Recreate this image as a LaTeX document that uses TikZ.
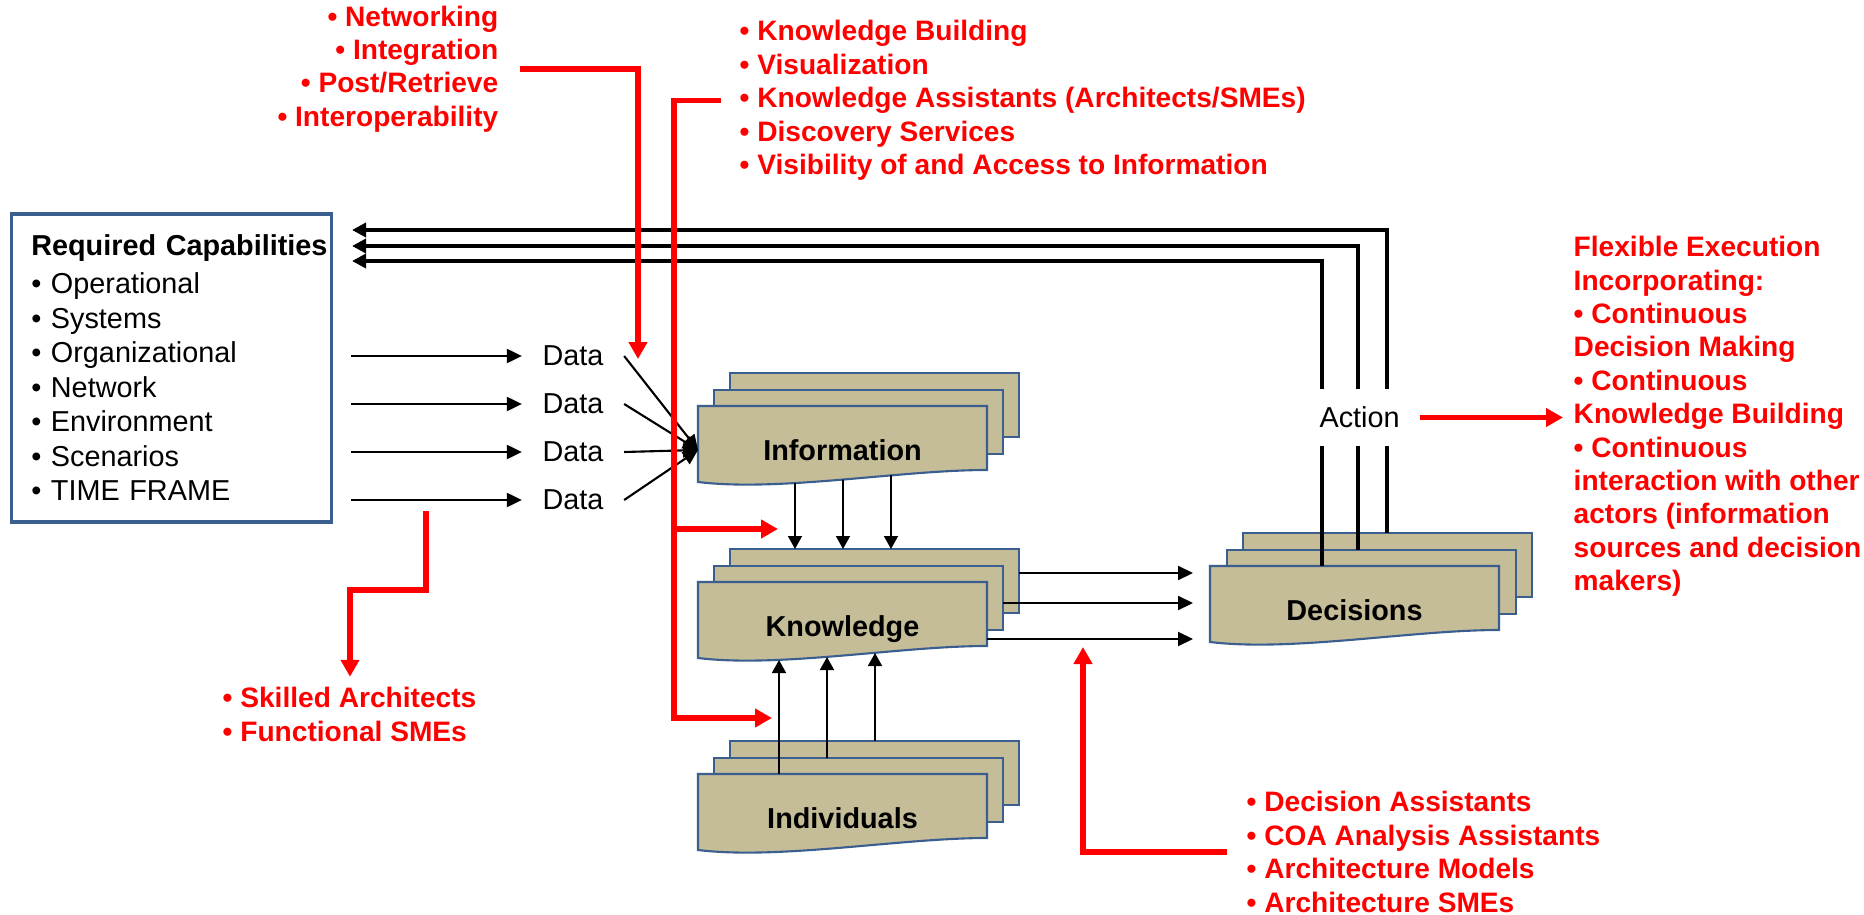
\documentclass[tikz,border=0pt]{standalone}
\usepackage{fontspec}
\setmainfont{Liberation Sans}
\usetikzlibrary{arrows.meta}
\definecolor{doctan}{HTML}{C4BD97}
\definecolor{docblue}{HTML}{3A5F8F}
\definecolor{notered}{HTML}{FF0000}
\begin{document}
\begin{tikzpicture}[font=\fontsize{8.2}{9.6}\selectfont,
  sheet/.style={draw=docblue,fill=doctan,line width=0.6pt,minimum width=2.89cm,minimum height=0.64cm,inner sep=0,outer sep=0},
  sheetline/.style={draw=docblue,fill=doctan,line width=0.6pt},
  sheetlabel/.style={minimum width=2.89cm,minimum height=0.88cm,inner sep=0,outer sep=0,font=\fontsize{8.2}{9.6}\selectfont\bfseries,text height=0.21cm,text depth=0cm},
  capbox/.style={draw=docblue,line width=1pt,minimum width=3.2cm,minimum height=3.08cm,text width=2.8cm,inner xsep=0.2cm,align=left,font=\fontsize{8.2}{9.8}\selectfont},
  datalabel/.style={inner xsep=0.2cm},
  notes/.style={text=notered,font=\fontsize{8}{9.5}\selectfont\bfseries,inner sep=0.1cm,align=left},
  datarrow/.style={line width=0.6pt,-{Triangle[length=0.15cm,width=0.14cm]}},
  thinarrow/.style={line width=0.45pt,-{Triangle[length=0.13cm,width=0.14cm]}},
  fbline/.style={line width=1pt},
  fbarrow/.style={line width=1pt,-{Triangle[length=0.14cm,width=0.14cm]}},
  redarrow/.style={color=notered,line width=1.5pt,-{Triangle[length=0.17cm,width=0.18cm]}}]
\useasboundingbox (0,0) rectangle (18.64,9.14);
% required capabilities
\node[capbox,anchor=north west] (req) at (0.095,7.02) {\mbox{\textbf{Required Capabilities}}\\[0.035cm]
  • Operational\\ • Systems\\ • Organizational\\ • Network\\ • Environment\\ • Scenarios\\ • TIME FRAME};
\node[datalabel] (d1) at (5.73,5.58) {Data};
\node[datalabel] (d2) at (5.73,5.10) {Data};
\node[datalabel] (d3) at (5.73,4.62) {Data};
\node[datalabel] (d4) at (5.73,4.14) {Data};
% information
\node[sheet,anchor=north west] (info-3) at (7.30,5.41) {};
\node[sheet,anchor=north west] (info-2) at (7.14,5.24) {};
\filldraw[sheetline] (6.98,5.08) -- (9.87,5.08) -- (9.87,4.44) .. controls (9.00,4.44) and (7.80,4.22) .. (6.98,4.32) -- cycle;
\node[sheetlabel,anchor=north west] (info) at (6.98,5.08) {Information};
% knowledge
\node[sheet,anchor=north west] (know-3) at (7.30,3.65) {};
\node[sheet,anchor=north west] (know-2) at (7.14,3.48) {};
\filldraw[sheetline] (6.98,3.32) -- (9.87,3.32) -- (9.87,2.68) .. controls (9.00,2.68) and (7.80,2.46) .. (6.98,2.56) -- cycle;
\node[sheetlabel,anchor=north west] (know) at (6.98,3.32) {Knowledge};
% individuals
\node[sheet,anchor=north west] (indiv-3) at (7.30,1.73) {};
\node[sheet,anchor=north west] (indiv-2) at (7.14,1.56) {};
\filldraw[sheetline] (6.98,1.40) -- (9.87,1.40) -- (9.87,0.76) .. controls (9.00,0.76) and (7.80,0.54) .. (6.98,0.64) -- cycle;
\node[sheetlabel,anchor=north west] (indiv) at (6.98,1.40) {Individuals};
% decisions
\node[sheet,anchor=north west] (dec-3) at (12.43,3.81) {};
\node[sheet,anchor=north west] (dec-2) at (12.27,3.64) {};
\filldraw[sheetline] (12.10,3.48) -- (14.99,3.48) -- (14.99,2.84) .. controls (14.12,2.84) and (12.92,2.62) .. (12.10,2.72) -- cycle;
\node[sheetlabel,anchor=north west] (dec) at (12.10,3.48) {Decisions};
\node[inner xsep=0.2cm,inner ysep=0.17cm] (action) at (13.596,4.965) {Action};
% data flow
\draw[datarrow,shorten <=0.18cm] (req.east |- d1) -- (d1);
\draw[datarrow,shorten <=0.18cm] (req.east |- d2) -- (d2);
\draw[datarrow,shorten <=0.18cm] (req.east |- d3) -- (d3);
\draw[datarrow,shorten <=0.18cm] (req.east |- d4) -- (d4);
\draw[datarrow] (d1.east) -- (info.west);
\draw[datarrow] (d2.east) -- (info.west);
\draw[datarrow] (d3.east) -- (info.west);
\draw[datarrow] (d4.east) -- (info.west);
\draw[thinarrow] ([xshift=0.97cm,yshift=-0.77cm]info.north west) -- ([xshift=0.65cm]know-3.north west);
\draw[thinarrow] ([xshift=1.45cm,yshift=-0.735cm]info.north west) -- ([xshift=1.13cm]know-3.north west);
\draw[thinarrow] ([xshift=1.93cm,yshift=-0.69cm]info.north west) -- ([xshift=1.61cm]know-3.north west);
\draw[thinarrow] ([xshift=0.81cm]indiv.north west) -- ([xshift=0.81cm,yshift=-0.78cm]know.north west);
\draw[thinarrow] ([xshift=1.13cm]indiv-2.north west) -- ([xshift=1.29cm,yshift=-0.75cm]know.north west);
\draw[thinarrow] ([xshift=1.45cm]indiv-3.north west) -- ([xshift=1.77cm,yshift=-0.71cm]know.north west);
\draw[datarrow,shorten >=0.17cm] ([yshift=-0.24cm]know-3.north east) -- ([yshift=-0.24cm]know-3.north east -| dec.west);
\draw[datarrow,shorten >=0.17cm] ([yshift=-0.37cm]know-2.north east) -- ([yshift=-0.37cm]know-2.north east -| dec.west);
\draw[datarrow,shorten >=0.17cm] ([yshift=-0.57cm]know.north east) -- ([yshift=-0.57cm]know.north east -| dec.west);
% feedback to capabilities
\coordinate (fb1) at (13.87,6.84);
\coordinate (fb2) at (13.58,6.68);
\coordinate (fb3) at (13.22,6.53);
\draw[fbline] (dec-3.north -| fb1) -- (action.south -| fb1);
\draw[fbline] (dec-2.north -| fb2) -- (action.south -| fb2);
\draw[fbline] (dec.north -| fb3) -- (action.south -| fb3);
\draw[fbarrow,shorten >=0.19cm] (action.north -| fb1) -- (fb1) -- (fb1 -| req.east);
\draw[fbarrow,shorten >=0.19cm] (action.north -| fb2) -- (fb2) -- (fb2 -| req.east);
\draw[fbarrow,shorten >=0.19cm] (action.north -| fb3) -- (fb3) -- (fb3 -| req.east);
% red notes
\node[notes,align=right,anchor=east] (netw) at (5.09,8.45) {• Networking\\• Integration\\• Post/Retrieve\\• Interoperability};
\node[notes,anchor=west] (kbl) at (7.29,8.135) {• Knowledge Building\\• Visualization\\• Knowledge Assistants (Architects/SMEs)\\• Discovery Services\\• Visibility of and Access to Information};
\node[notes,anchor=west] (skill) at (2.12,1.995) {• Skilled Architects\\• Functional SMEs};
\node[notes,anchor=west] (dass) at (12.36,0.62) {• Decision Assistants\\• COA Analysis Assistants\\• Architecture Models\\• Architecture SMEs};
\node[notes,anchor=west] (flex) at (15.63,4.975) {Flexible Execution\\Incorporating:\\• Continuous\\Decision Making\\• Continuous\\Knowledge Building\\• Continuous\\interaction with other\\actors (information\\sources and decision\\makers)};
\coordinate (netwtip) at (6.38,5.55);
\coordinate (kbbend) at (6.74,1.96);
\coordinate (kbtip1) at (7.78,3.85);
\coordinate (kbtip2) at (7.72,1.96);
\coordinate (skstart) at (4.26,4.03);
\coordinate (skbend) at (3.50,3.24);
\coordinate (dasstip) at (10.83,2.67);
\draw[redarrow] ([xshift=0.11cm]netw.east) -| (netwtip);
\draw[redarrow] ([xshift=-0.08cm]kbl.west) -| (kbbend) -- (kbtip2);
\draw[redarrow] (kbbend |- kbtip1) -- (kbtip1);
\draw[redarrow] (skstart) |- (skbend) -- (skbend |- skill.north);
\draw[redarrow] ([xshift=-0.09cm]dass.west) -| (dasstip);
\draw[redarrow] (action.east) -- (action.east -| flex.west);
\end{tikzpicture}
\end{document}
